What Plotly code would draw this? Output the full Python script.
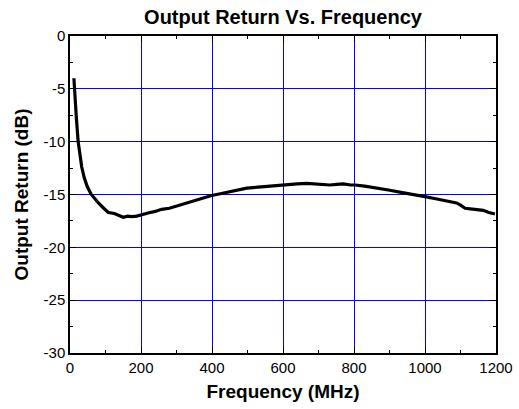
import plotly.graph_objects as go

freq_mhz = [11, 14, 18, 23, 28, 33, 40, 48, 59, 70, 80, 95, 108, 125, 140, 150, 162, 174, 188, 202,
            220, 240, 258, 280, 300, 319, 340, 360, 380, 399, 420, 450, 480, 498, 530, 560, 592, 620,
            640, 667, 690, 710, 732, 751, 770, 790, 803, 830, 860, 901, 940, 970, 1000, 1030, 1060,
            1089, 1100, 1113, 1140, 1164, 1180, 1197]
return_db = [-4.0, -6.0, -7.8, -10.0, -11.3, -12.4, -13.4, -14.2, -14.95, -15.45, -15.8, -16.3, -16.7,
             -16.8, -17.05, -17.15, -17.05, -17.1, -17.05, -16.95, -16.75, -16.6, -16.4, -16.3, -16.1,
             -15.85, -15.7, -15.5, -15.3, -15.1, -14.95, -14.75, -14.55, -14.4, -14.3, -14.2, -14.1,
             -14.05, -14.0, -13.95, -14.0, -14.1, -14.1, -14.05, -14.0, -14.1, -14.1, -14.2, -14.35,
             -14.6, -14.85, -15.0, -15.2, -15.4, -15.6, -15.8, -16.0, -16.3, -16.4, -16.5, -16.7, -16.85]

x_ticks = [0, 200, 400, 600, 800, 1000, 1200]
y_ticks = [0, -5, -10, -15, -20, -25, -30]

font_family = "Liberation Sans, Arial, sans-serif"

fig = go.Figure()
fig.add_trace(go.Scatter(x=freq_mhz, y=return_db, mode="lines",
                         line=dict(color="black", width=3.2), showlegend=False))

fig.update_layout(
    width=519, height=409,
    margin=dict(l=70, r=23, t=36, b=56),
    paper_bgcolor="white", plot_bgcolor="white",
    font=dict(family=font_family, color="black", size=15),
    title=dict(text="<b>Output Return Vs. Frequency</b>", x=0.5, xref="paper", xanchor="center",
               y=0.958, yanchor="middle", font=dict(size=20, family=font_family, color="black")),
)
fig.update_xaxes(
    range=[0, 1200], tickvals=x_ticks, ticktext=[str(v) for v in x_ticks],
    showgrid=True, gridcolor="#0000ff", gridwidth=1,
    showline=True, linecolor="black", linewidth=1.5, mirror="ticks",
    ticks="inside", ticklen=6, tickwidth=1, tickcolor="black",
    minor=dict(ticks="inside", dtick=100, tick0=0, ticklen=3, tickcolor="black", showgrid=False),
    zeroline=False, tickfont=dict(size=15), automargin=False,
    title=dict(text="<b>Frequency (MHz)</b>", font=dict(size=19), standoff=10),
)
fig.update_yaxes(
    range=[-30, 0], tickvals=y_ticks, ticktext=[str(v) for v in y_ticks],
    showgrid=True, gridcolor="#0000ff", gridwidth=1,
    showline=True, linecolor="black", linewidth=1.5, mirror="ticks",
    ticks="inside", ticklen=6, tickwidth=1, tickcolor="black",
    minor=dict(ticks="inside", dtick=2.5, tick0=0, ticklen=3, tickcolor="black", showgrid=False),
    zeroline=False, tickfont=dict(size=15), automargin=False,
    title=dict(text="<b>Output Return (dB)</b>", font=dict(size=19), standoff=10),
)

fig.write_html("out.html")
